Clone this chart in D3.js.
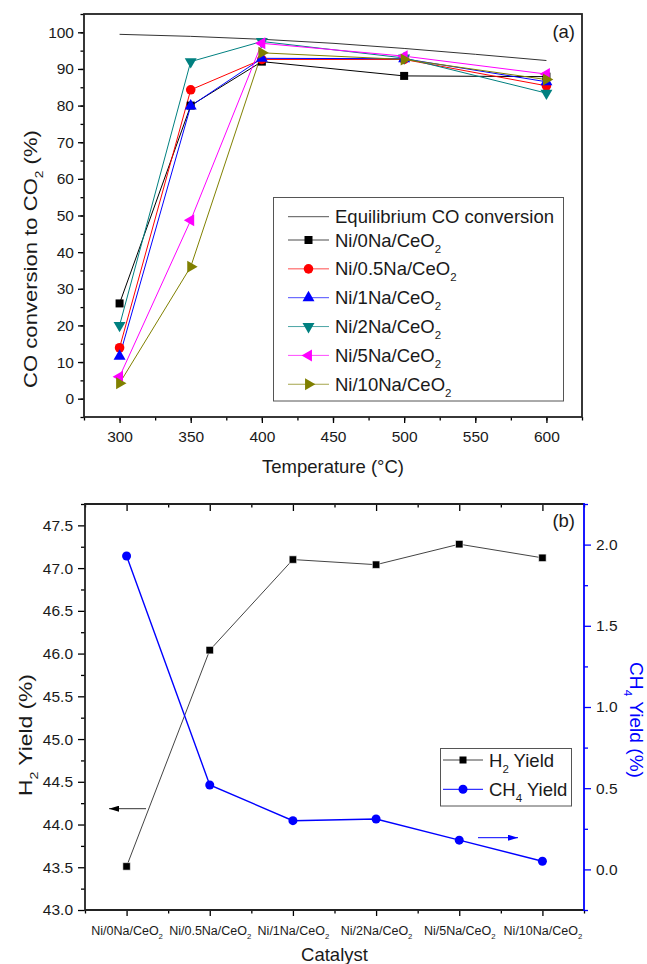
<!DOCTYPE html>
<html><head><meta charset="utf-8">
<script src="https://cdn.jsdelivr.net/npm/d3@7/dist/d3.min.js"></script>
<style>body{margin:0;background:#fff} text{font-family:"Liberation Sans",Arial,sans-serif;fill:#1a1a1a}</style>
</head><body><svg id="c" width="647" height="964"></svg>
<script>
// ---------- data: panel (a) ----------
const temps = [300, 350, 400, 500, 600];
const eqTemps = [300, 350, 400, 450, 500, 550, 600];
const eqValues = [99.45, 98.9, 98.1, 97.0, 95.6, 94.0, 92.3];
const ni0 = [26.0, 80.0, 92.0, 88.1, 87.9];
const ni05 = [13.9, 84.3, 92.6, 92.6, 85.4];
const ni1 = [11.6, 79.9, 92.9, 92.8, 86.5];
const ni2 = [20.0, 92.0, 97.5, 93.0, 83.4];
const ni5 = [6.0, 48.7, 97.0, 93.5, 88.6];
const ni10 = [4.2, 36.0, 94.4, 92.6, 87.1];
const seriesLabels = ["Ni/0Na/CeO", "Ni/0.5Na/CeO", "Ni/1Na/CeO", "Ni/2Na/CeO", "Ni/5Na/CeO", "Ni/10Na/CeO"];
const tempTicks = [300, 350, 400, 450, 500, 550, 600];
const convTicks = [0, 10, 20, 30, 40, 50, 60, 70, 80, 90, 100];

// ---------- data: panel (b) ----------
const catalysts = ["Ni/0Na/CeO", "Ni/0.5Na/CeO", "Ni/1Na/CeO", "Ni/2Na/CeO", "Ni/5Na/CeO", "Ni/10Na/CeO"];
const h2Yield = [43.51, 46.04, 47.10, 47.04, 47.28, 47.12];
const ch4Yield = [1.93, 0.52, 0.30, 0.31, 0.18, 0.05];
const h2Ticks = [43.0, 43.5, 44.0, 44.5, 45.0, 45.5, 46.0, 46.5, 47.0, 47.5];
const ch4Ticks = [0.0, 0.5, 1.0, 1.5, 2.0];

const svg = d3.select("#c");
const BLUE = "#0000ff";

function subText(sel, base, sub, subScale, subDy) {
  sel.text(null);
  sel.append("tspan").text(base);
  if (sub) {
    const fs = parseFloat(sel.attr("font-size") || 15);
    sel.append("tspan").attr("font-size", fs * subScale).attr("dy", subDy).text(sub);
  }
}
// rotated title fitted to a target length
function vTitle(parent, x, y, rot, len, parts, fill) {
  const t = parent.append("text").attr("text-anchor", "middle").attr("font-size", 18.5);
  if (fill) t.style("fill", fill);
  t.append("tspan").text(parts[0]);
  t.append("tspan").attr("font-size", 11.5).attr("dy", 6).text(parts[1]);
  t.append("tspan").attr("dy", -6).text(parts[2]);
  const w = t.node().getBBox().width;
  t.attr("transform", `translate(${x},${y}) rotate(${rot}) scale(${len / w},1)`);
  return t;
}

// ================= PANEL A =================
const A = {l: 84, r: 582, t: 14, b: 417};
const xA = d3.scaleLinear().domain([275, 625]).range([A.l, A.r]);
const yA = d3.scaleLinear().domain([-5, 105]).range([A.b, A.t]);
const gA = svg.append("g");

const axBA = d3.axisBottom(xA).tickValues(tempTicks).tickSize(6).tickPadding(8).tickFormat(d3.format("d"));
const axBAm = d3.axisBottom(xA).tickValues(d3.range(275, 626, 25)).tickSize(3.5).tickFormat("");
const axLA = d3.axisLeft(yA).tickValues(convTicks).tickSize(6).tickPadding(4).tickFormat(d3.format("d"));
const axLAm = d3.axisLeft(yA).tickValues(d3.range(-5, 106, 5)).tickSize(3.5).tickFormat("");
[[axBAm, "b"], [axBA, "b"], [axLAm, "l"], [axLA, "l"]].forEach(([ax, s]) => {
  const g = gA.append("g").attr("transform", s === "b" ? `translate(0,${A.b})` : `translate(${A.l},0)`).call(ax);
  g.select(".domain").remove();
  g.selectAll("line").attr("stroke", "#000").attr("stroke-width", 1.3);
  g.selectAll("text").attr("font-size", 15.5).attr("font-family", null).attr("fill", "#1a1a1a");
});
gA.append("rect").attr("x", A.l).attr("y", A.t).attr("width", A.r - A.l).attr("height", A.b - A.t)
  .attr("fill", "none").attr("stroke", "#222").attr("stroke-width", 1.8);

gA.append("path").datum(eqTemps.map((t, i) => [t, eqValues[i]]))
  .attr("d", d3.line().x(d => xA(d[0])).y(d => yA(d[1])))
  .attr("fill", "none").attr("stroke", "#333").attr("stroke-width", 1);

const series = [
  {v: ni0, c: "#000000", type: d3.symbolSquare, size: 64, rot: 0},
  {v: ni05, c: "#ff0000", type: d3.symbolCircle, size: 72, rot: 0},
  {v: ni1, c: "#0000ff", type: d3.symbolTriangle, size: 62, rot: 0},
  {v: ni2, c: "#008080", type: d3.symbolTriangle, size: 62, rot: 180},
  {v: ni5, c: "#ff00ff", type: d3.symbolTriangle, size: 62, rot: -90},
  {v: ni10, c: "#808000", type: d3.symbolTriangle, size: 62, rot: 90}
];
series.forEach(s => {
  gA.append("path").datum(temps.map((t, i) => [t, s.v[i]]))
    .attr("d", d3.line().x(d => xA(d[0])).y(d => yA(d[1])))
    .attr("fill", "none").attr("stroke", s.c).attr("stroke-width", 1);
});
series.forEach(s => {
  gA.selectAll(null).data(temps.map((t, i) => [t, s.v[i]])).enter().append("path")
    .attr("d", d3.symbol().type(s.type).size(s.size)())
    .attr("transform", d => `translate(${xA(d[0])},${yA(d[1])}) rotate(${s.rot})`)
    .attr("fill", s.c);
});

const lgA = gA.append("g");
lgA.append("rect").attr("x", 273.5).attr("y", 197.5).attr("width", 290).attr("height", 203.5)
  .attr("fill", "#fff").attr("stroke", "#555").attr("stroke-width", 1);
const legY = [216.7].concat(seriesLabels.map((d, i) => 240 + i * 28.85));
lgA.append("line").attr("x1", 288).attr("x2", 329).attr("y1", legY[0]).attr("y2", legY[0]).attr("stroke", "#555").attr("stroke-width", 1);
lgA.append("text").attr("x", 335).attr("y", legY[0] + 6.5).attr("font-size", 18.5).text("Equilibrium CO conversion");
series.forEach((s, i) => {
  const y = legY[i + 1];
  lgA.append("line").attr("x1", 288).attr("x2", 329).attr("y1", y).attr("y2", y).attr("stroke", s.c).attr("stroke-width", 1).attr("opacity", 0.7);
  lgA.append("path").attr("d", d3.symbol().type(s.type).size(s.size)())
    .attr("transform", `translate(308.5,${y}) rotate(${s.rot})`).attr("fill", s.c);
  const t = lgA.append("text").attr("x", 335).attr("y", y + 6.5).attr("font-size", 18.5);
  subText(t, seriesLabels[i], "2", 0.62, 6);
});

gA.append("text").attr("x", 575).attr("y", 38).attr("text-anchor", "end").attr("font-size", 18.5).text("(a)");
gA.append("text").attr("x", (A.l + A.r) / 2).attr("y", 473).attr("text-anchor", "middle").attr("font-size", 18.5).text("Temperature (°C)");
vTitle(gA, 37, 259, -90, 258, ["CO conversion to CO", "2", " (%)"]);

// ================= PANEL B =================
const B = {l: 85, r: 584, t: 504, b: 910};
const xB = d3.scaleLinear().domain([-0.5, 5.5]).range([B.l, B.r]);
const yL = d3.scaleLinear().domain([43, 47.75]).range([B.b, B.t]);
const yR = d3.scaleLinear().domain([-0.25, 2.25]).range([B.b, B.t]);
const gB = svg.append("g");
const idx = d3.range(catalysts.length);
const half = d3.range(-0.5, 5.51, 1);

function styleAx(g, col) {
  g.select(".domain").remove();
  g.selectAll("line").attr("stroke", col).attr("stroke-width", 1.3);
  g.selectAll("text").attr("font-family", null).attr("fill", col === "#000" ? "#1a1a1a" : col);
}
let g = gB.append("g").attr("transform", `translate(0,${B.b})`).call(d3.axisBottom(xB).tickValues(half).tickSize(3.5).tickFormat("")); styleAx(g, "#000");
g = gB.append("g").attr("transform", `translate(0,${B.b})`).call(d3.axisBottom(xB).tickValues(idx).tickSize(6).tickPadding(10).tickFormat(i => catalysts[i])); styleAx(g, "#000");
g.selectAll("text").attr("font-size", 12.5).each(function(i) { subText(d3.select(this), catalysts[i], "2", 0.62, 4); });
g = gB.append("g").attr("transform", `translate(0,${B.t})`).call(d3.axisBottom(xB).tickValues(half).tickSize(3.5).tickFormat("")); styleAx(g, "#000");
g = gB.append("g").attr("transform", `translate(0,${B.t})`).call(d3.axisBottom(xB).tickValues(idx).tickSize(7).tickFormat("")); styleAx(g, "#000");
g = gB.append("g").attr("transform", `translate(${B.l},0)`).call(d3.axisLeft(yL).tickValues(d3.range(43.25, 47.76, 0.5)).tickSize(4).tickFormat("")); styleAx(g, "#000");
g = gB.append("g").attr("transform", `translate(${B.l},0)`).call(d3.axisLeft(yL).tickValues(h2Ticks).tickSize(7).tickPadding(5).tickFormat(d3.format(".1f"))); styleAx(g, "#000");
g.selectAll("text").attr("font-size", 15.5);
g = gB.append("g").attr("transform", `translate(${B.r},0)`).call(d3.axisRight(yR).tickValues(d3.range(-0.25, 2.26, 0.5)).tickSize(4).tickFormat("")); styleAx(g, BLUE);
g = gB.append("g").attr("transform", `translate(${B.r},0)`).call(d3.axisRight(yR).tickValues(ch4Ticks).tickSize(7).tickPadding(5).tickFormat(d3.format(".1f"))); styleAx(g, BLUE);
g.selectAll("text").attr("font-size", 15.5);
gB.append("path").attr("d", `M${B.r},${B.t}H${B.l}V${B.b}H${B.r}`).attr("fill", "none").attr("stroke", "#222").attr("stroke-width", 1.8);
gB.append("line").attr("x1", B.r).attr("x2", B.r).attr("y1", B.t - 0.9).attr("y2", B.b + 0.9).attr("stroke", BLUE).attr("stroke-width", 1.8);

gB.append("path").datum(idx).attr("d", d3.line().x(i => xB(i)).y(i => yL(h2Yield[i])))
  .attr("fill", "none").attr("stroke", "#444").attr("stroke-width", 1);
gB.append("path").datum(idx).attr("d", d3.line().x(i => xB(i)).y(i => yR(ch4Yield[i])))
  .attr("fill", "none").attr("stroke", BLUE).attr("stroke-width", 1.4);
gB.selectAll(null).data(idx).enter().append("path").attr("d", d3.symbol().type(d3.symbolSquare).size(56)())
  .attr("transform", i => `translate(${xB(i)},${yL(h2Yield[i])})`).attr("fill", "#000").attr("stroke", "#fff").attr("stroke-width", 0.6);
gB.selectAll(null).data(idx).enter().append("circle").attr("cx", i => xB(i)).attr("cy", i => yR(ch4Yield[i])).attr("r", 4.5).attr("fill", BLUE);

const defs = svg.append("defs");
[["ahK", "#000"], ["ahB", BLUE]].forEach(([id, c]) => {
  defs.append("marker").attr("id", id).attr("viewBox", "0 0 10 6").attr("refX", 10).attr("refY", 3)
    .attr("markerWidth", 10).attr("markerHeight", 6).attr("markerUnits", "userSpaceOnUse").attr("orient", "auto")
    .append("path").attr("d", "M0,0L10,3L0,6Z").attr("fill", c);
});
gB.append("line").attr("x1", 146).attr("x2", 109).attr("y1", 808.7).attr("y2", 808.7).attr("stroke", "#333").attr("stroke-width", 1).attr("marker-end", "url(#ahK)");
gB.append("line").attr("x1", 478).attr("x2", 518).attr("y1", 837.7).attr("y2", 837.7).attr("stroke", BLUE).attr("stroke-width", 1).attr("marker-end", "url(#ahB)");

const lgB = gB.append("g");
lgB.append("rect").attr("x", 440.5).attr("y", 748.5).attr("width", 131).attr("height", 57.5).attr("fill", "#fff").attr("stroke", "#555").attr("stroke-width", 1);
[[760, "#444", "sq", "H", "2", " Yield"], [789.3, BLUE, "ci", "CH", "4", " Yield"]].forEach(([y, c, m, a, s, b]) => {
  lgB.append("line").attr("x1", 443).attr("x2", 483).attr("y1", y).attr("y2", y).attr("stroke", c).attr("stroke-width", 1);
  if (m === "sq") lgB.append("rect").attr("x", 459.5).attr("y", y - 3.5).attr("width", 7).attr("height", 7).attr("fill", "#000");
  else lgB.append("circle").attr("cx", 463).attr("cy", y).attr("r", 4.5).attr("fill", BLUE);
  const t = lgB.append("text").attr("x", 489).attr("y", y + 6.5).attr("font-size", 18.5);
  t.append("tspan").text(a);
  t.append("tspan").attr("font-size", 11.5).attr("dy", 6).text(s);
  t.append("tspan").attr("dy", -6).text(b);
});

gB.append("text").attr("x", 575).attr("y", 527).attr("text-anchor", "end").attr("font-size", 18.5).text("(b)");
gB.append("text").attr("x", (B.l + B.r) / 2).attr("y", 961).attr("text-anchor", "middle").attr("font-size", 18.5).text("Catalyst");
vTitle(gB, 32, 735, -90, 122, ["H", "2", " Yield (%)"]);
vTitle(gB, 630, 720, 90, 116, ["CH", "4", " Yield (%)"], BLUE);
</script></body></html>
